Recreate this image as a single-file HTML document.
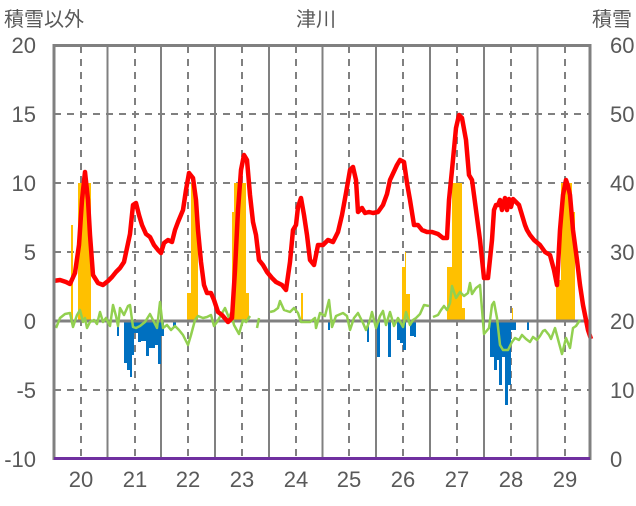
<!DOCTYPE html>
<html><head><meta charset="utf-8"><style>
body{margin:0;background:#fff;}
svg text{font-family:"Liberation Sans","Noto Sans CJK JP",sans-serif;fill:#595959;}
</style></head><body>
<svg width="636" height="501" viewBox="0 0 636 501" xmlns="http://www.w3.org/2000/svg">
<g font-size="20">
<text x="4" y="26">積雪以外</text>
<text x="316" y="26" text-anchor="middle">津川</text>
<text x="632" y="26" text-anchor="end">積雪</text>
</g>
<g font-size="22" text-anchor="end">
<text x="36" y="53">20</text><text x="36" y="122">15</text><text x="36" y="191">10</text>
<text x="36" y="260">5</text><text x="36" y="329">0</text><text x="36" y="398">-5</text><text x="36" y="467">-10</text>
</g>
<g font-size="22">
<text x="610" y="53">60</text><text x="610" y="122">50</text><text x="610" y="191">40</text>
<text x="610" y="260">30</text><text x="610" y="329">20</text><text x="610" y="398">10</text><text x="610" y="467">0</text>
</g>
<g font-size="22" text-anchor="middle">
<text x="81" y="487">20</text><text x="135" y="487">21</text><text x="188" y="487">22</text><text x="242" y="487">23</text><text x="296" y="487">24</text><text x="349" y="487">25</text><text x="403" y="487">26</text><text x="457" y="487">27</text><text x="511" y="487">28</text><text x="565" y="487">29</text>
</g>
<g stroke="#808080" stroke-width="2">
<path d="M107.5 46V459M161 46V459M215 46V459M269 46V459M322.5 46V459M376 46V459M430 46V459M484 46V459M537.5 46V459"/>
<path stroke-dasharray="7,6" d="M81 46V459M135 46V459M188 46V459M242 46V459M296 46V459M349 46V459M403 46V459M457 46V459M511 46V459M565 46V459M54 114H590M54 183H590M54 252H590M54 390H590"/>
</g>
<g fill="#FFC000">
<rect x="71" y="225" width="2" height="96"/><rect x="78" y="183" width="13" height="138"/>
<rect x="187" y="293" width="4" height="28"/><rect x="191" y="183" width="5" height="138"/><rect x="196" y="198" width="2" height="123"/>
<rect x="232" y="212" width="2" height="109"/><rect x="234" y="183" width="12" height="138"/><rect x="246" y="293" width="3" height="28"/>
<rect x="301" y="293" width="2" height="28"/>
<rect x="402" y="267" width="3" height="54"/><rect x="405" y="252" width="1" height="69"/><rect x="406" y="294" width="4" height="27"/>
<rect x="447" y="267" width="5" height="54"/><rect x="452" y="183" width="10" height="138"/><rect x="462" y="308" width="3" height="13"/>
<rect x="512" y="308" width="1" height="13"/>
<rect x="556" y="280" width="5" height="41"/><rect x="561" y="183" width="11" height="138"/><rect x="572" y="212" width="3" height="109"/>
</g>
<g fill="#0070C0">
<rect x="53" y="321" width="2" height="7"/>
<rect x="117" y="321" width="2" height="15"/><rect x="124" y="321" width="3" height="42"/><rect x="127" y="321" width="3" height="49"/><rect x="130" y="321" width="2" height="56"/><rect x="132" y="321" width="2" height="34"/><rect x="134" y="321" width="4" height="12"/><rect x="138" y="321" width="3" height="21"/><rect x="141" y="321" width="5" height="20"/><rect x="146" y="321" width="3" height="35"/><rect x="149" y="321" width="2" height="27"/><rect x="151" y="321" width="4" height="27"/><rect x="155" y="321" width="3" height="24"/><rect x="158" y="321" width="3" height="43"/><rect x="161" y="321" width="3" height="15"/><rect x="173" y="321" width="3" height="7"/>
<rect x="328" y="321" width="2" height="9"/><rect x="367" y="321" width="2" height="21"/><rect x="377" y="321" width="3" height="36"/><rect x="388" y="321" width="3" height="36"/><rect x="397" y="321" width="3" height="19"/><rect x="400" y="321" width="3" height="22"/><rect x="403" y="321" width="3" height="29"/><rect x="410" y="321" width="4" height="15"/><rect x="414" y="321" width="2" height="16"/>
<rect x="490" y="321" width="4" height="36"/><rect x="494" y="321" width="3" height="49"/><rect x="497" y="321" width="2" height="39"/><rect x="499" y="321" width="3" height="64"/><rect x="502" y="321" width="3" height="36"/><rect x="505" y="321" width="3" height="84"/><rect x="508" y="321" width="3" height="64"/><rect x="511" y="321" width="5" height="9"/><rect x="527" y="321" width="2" height="9"/>
</g>
<path d="M54 321H590" stroke="#808080" stroke-width="3"/>
<g fill="none" stroke="#92D050" stroke-width="2.5" stroke-linejoin="round">
<polyline points="56,328 60,318 65,314 70,313 73,327 77,315 80,310 83,322 85,318 87,328 90,322 94,320 97,324 100,312 103,322 106,318 110,326 113,305 116,316 118,326 120,308 124,315 128,306 130,305 133,327 136,328 140,326 145,322 150,314 153,320 157,328 160,302 163,328 167,325 171,330 175,326 179,330 183,335 188,345 191,335 195,320 198,316 203,318 207,317 211,315 214,326 217,322 221,315 225,308 229,318 231,313 234,325 239,334 243,320 246,322 250,316"/>
<polyline points="257,328 259,318"/>
<polyline points="270,312 274,311 278,308 280,301 284,310 290,312 294,308 298,313 301,322 305,322 310,322 315,318 316,328 320,313 325,316 329,300 332,327 336,316 343,313 347,316 350,330 354,318 358,313 363,323 366,330 370,320 372,312 376,328 380,316 383,311 386,325 390,312 394,326 398,318 403,327 406,312 410,325 413,320 416,318 420,314 424,305 429,306"/>
<polyline points="433,317 438,315 441,310 444,306 447,310 450,303 452,286 456,298 460,292 464,296 468,293 470,283 472,294 476,288 480,285 484,334 489,328 492,305 494,302 497,318 500,345 503,350 508,350 512,342 515,338 519,340 522,335 526,339 530,342 533,337 537,340 540,336 543,331 545,330 549,335 551,339 555,328 559,343 562,354 566,338 570,348 573,328 576,326 580,320"/>
</g>
<polyline fill="none" stroke="#FF0000" stroke-width="4.5" stroke-linejoin="round" points="53,281 60,280 66,282 70,284 75,273 79,245 82,200 85,172 88,200 90,235 93,275 98,283 103,285 108,281 112,277 116,272 120,268 124,262 127,248 130,234 133,205 136,203 139,215 142,225 146,234 150,237 154,245 158,250 161,253 164,243 168,240 172,242 175,230 178,222 183,210 186,190 189,173 193,178 196,200 198,230 201,262 204,285 207,293 211,293 214,300 218,312 222,315 228,322 232,318 235,270 238,210 241,170 244,155 247,160 250,195 253,222 256,235 259,260 263,265 267,272 272,278 276,282 282,285 286,290 290,262 293,230 296,225 298,207 301,198 304,215 307,235 310,260 314,265 318,245 323,245 328,240 333,242 338,232 342,215 346,193 350,170 353,167 356,180 358,212 362,208 365,213 369,212 373,213 378,212 383,205 387,194 390,180 397,165 400,160 404,162 407,183 410,200 414,225 418,225 422,230 427,232 432,232 438,234 443,238 447,238 449,200 452,170 456,128 459,115 462,118 466,140 469,175 472,180 476,210 480,240 484,278 488,278 492,240 494,210 496,205 498,205 500,200 502,210 503,205 505,198 507,210 509,199 511,207 513,199 516,202 519,205 522,215 525,225 527,230 530,235 534,240 540,245 545,252 550,255 554,270 557,285 560,230 563,195 566,180 568,186 570,195 573,230 577,260 580,285 583,305 588,330 591,339"/>
<rect x="54" y="45.5" width="536" height="413" fill="none" stroke="#808080" stroke-width="3"/>
<path d="M54 458.5H590" stroke="#7030A0" stroke-width="3"/>
</svg>
</body></html>
